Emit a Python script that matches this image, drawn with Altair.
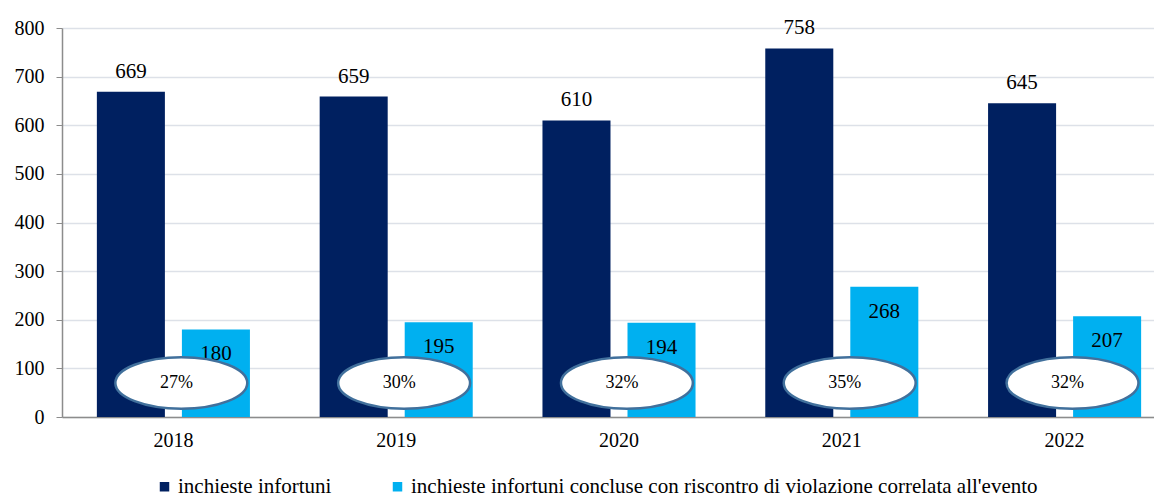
import altair as alt
import pandas as pd

years = ["2018", "2019", "2020", "2021", "2022"]
inchieste = [669, 659, 610, 758, 645]
concluse = [180, 195, 194, 268, 207]
percent = ["27%", "30%", "32%", "35%", "32%"]
series = ["inchieste infortuni",
          "inchieste infortuni concluse con riscontro di violazione correlata all'evento"]
colors = ["#002060", "#00B0F0"]

rows = []
for y, a, b in zip(years, inchieste, concluse):
    rows.append({"anno": y, "serie": series[0], "valore": a})
    rows.append({"anno": y, "serie": series[1], "valore": b})
df = pd.DataFrame(rows)
dfa = pd.DataFrame({"anno": years, "valore": inchieste})
dfb = pd.DataFrame({"anno": years, "valore": concluse})
dfp = pd.DataFrame({"anno": years, "perc": percent, "pos": [70] * len(years)})

FONT = "Liberation Serif"

xenc = alt.X("anno:N", title=None,
             scale=alt.Scale(paddingInner=0.313, paddingOuter=0.1565, range=[0, 1114]),
             axis=alt.Axis(labelAngle=0, ticks=False, labelPadding=13, labelFontSize=20,
                           labelFont=FONT, labelColor="#000", domainColor="#8c8c8c",
                           domainWidth=1.5))
yscale = alt.Scale(domain=[0, 800])

bars = alt.Chart(df).mark_bar().encode(
    x=xenc,
    xOffset=alt.XOffset("serie:N", sort=series, scale=alt.Scale(paddingInner=0.2, paddingOuter=0)),
    y=alt.Y("valore:Q", scale=yscale, title=None,
            axis=alt.Axis(values=list(range(0, 801, 100)), tickSize=6, tickColor="#8c8c8c",
                          labelPadding=12, labelFontSize=20, labelFont=FONT, labelColor="#000",
                          domainColor="#8c8c8c", domainWidth=1.5,
                          gridColor="#dde1e8", gridWidth=1.5)),
    color=alt.Color("serie:N", sort=series, scale=alt.Scale(domain=series, range=colors),
                    legend=alt.Legend(title=None, orient="none", direction="horizontal",
                                      legendX=92, legendY=448, symbolType="square",
                                      symbolSize=90, symbolOpacity=1, labelFont=FONT,
                                      labelFontSize=21, labelColor="#000", columnPadding=55,
                                      symbolStrokeWidth=0, labelOffset=3, labelLimit=0)),
)

top_labels = alt.Chart(dfa).mark_text(
    baseline="bottom", dx=-42.5, dy=-10, fontSize=21, font=FONT, color="#000"
).encode(
    x=xenc,
    y=alt.Y("valore:Q", scale=yscale),
    text="valore:Q",
)

in_labels = alt.Chart(dfb).mark_text(
    baseline="middle", dx=42.5, dy=25, fontSize=21, font=FONT, color="#000"
).encode(
    x=xenc,
    y=alt.Y("valore:Q", scale=yscale),
    text="valore:Q",
)

# ellipse outline, centred slightly right of the category centre
ellipse_path = "M -0.88 0 A 1 0.39 0 1 0 1.12 0 A 1 0.39 0 1 0 -0.88 0 Z"
ellipses = alt.Chart(dfp).mark_point(
    shape=ellipse_path, size=17400, filled=True, fill="white", stroke="#41709c",
    strokeWidth=2.5, opacity=1
).encode(
    x=xenc,
    y=alt.Y("pos:Q", scale=yscale),
)

perc_text = alt.Chart(dfp).mark_text(
    fontSize=18, font=FONT, color="#000", dx=3, baseline="middle"
).encode(
    x=xenc,
    y=alt.Y("pos:Q", scale=yscale),
    text="perc:N",
)

chart = alt.layer(bars, top_labels, in_labels, ellipses, perc_text).properties(
    width=1092, height=389,
    autosize=alt.AutoSizeParams(type="none"),
    padding={"left": 54, "top": 20, "right": 0, "bottom": 80},
).configure(background="white", font=FONT).configure_view(stroke=None)

chart.save("out.html", embed_options={"renderer": "svg", "actions": False})
